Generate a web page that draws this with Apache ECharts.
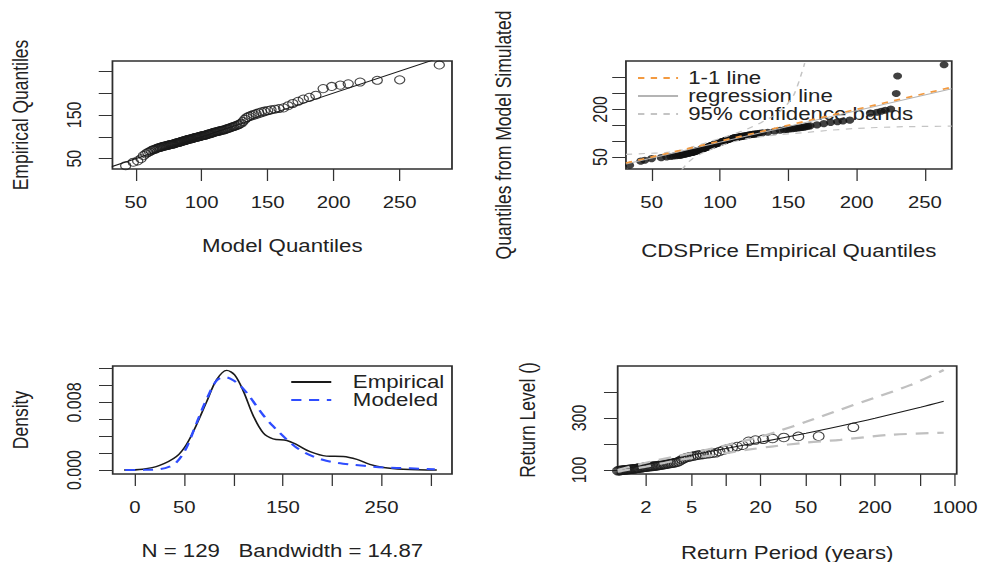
<!DOCTYPE html>
<html>
<head>
<meta charset="utf-8">
<script src="https://cdn.jsdelivr.net/npm/echarts@6.0.0/dist/echarts.min.js"></script>
<style>
  html, body { margin: 0; padding: 0; background: #fff; overflow: hidden; }
  #wrap { width: 981px; height: 562px; overflow: hidden; }
  /* the plot is laid out on a 772px canvas and stretched to the full width */
  #chart { width: 772px; height: 562px; transform: scale(1.2707, 1); transform-origin: 0 0; }
</style>
</head>
<body>
<div id="wrap"><div id="chart"></div></div>
<script>
// ---- sorted CDS prices (n = 129) ----
const cdsPrice = [
  34, 42, 45, 50, 57, 61, 64, 66, 68, 70,
  71, 72, 73.5, 74.5, 75.5, 76, 77, 77.5, 78, 79,
  79.5, 80, 80.5, 81, 81.5, 82, 82.5, 83, 83.5, 84,
  84.5, 85, 86, 86.5, 87, 87.5, 88, 88.5, 89, 89.5,
  90, 91, 91.5, 92, 92.5, 93, 93.5, 94, 94.5, 95,
  95.5, 96, 96.5, 97, 97.5, 98, 98.5, 99, 99.5, 100,
  100.5, 101, 101.5, 102, 102.5, 103, 103.5, 104, 104.5, 105,
  106, 106.5, 107, 108, 108.5, 109, 110, 110.5, 111, 112,
  112.5, 113, 113.5, 114, 115, 115.5, 116, 117, 118, 119,
  120, 121, 122, 123, 124, 125, 126, 127.5, 129, 131,
  135, 140, 144, 147, 149, 151, 153, 155, 157, 158.5,
  160, 161.5, 163, 164.5, 166, 171, 176, 181, 186, 190,
  195, 210, 215, 218, 221, 225, 229, 230, 264
];

// ---- fitted-model quantiles at the same plotting positions ----
const modelQuantiles = [
  42.4, 48.2, 51.5, 54.0, 55.9, 57.6, 59.1, 60.5, 61.7, 62.9,
  63.9, 65.0, 65.9, 66.9, 67.8, 68.6, 69.5, 70.3, 71.1, 71.8,
  72.6, 73.3, 74.1, 74.8, 75.5, 76.2, 76.8, 77.5, 78.2, 78.8,
  79.5, 80.1, 80.8, 81.4, 82.0, 82.7, 83.3, 83.9, 84.5, 85.1,
  85.7, 86.4, 87.0, 87.6, 88.2, 88.8, 89.4, 90.0, 90.6, 91.3,
  91.9, 92.5, 93.1, 93.7, 94.3, 95.0, 95.6, 96.2, 96.8, 97.5,
  98.1, 98.8, 99.4, 100.1, 100.7, 101.4, 102.1, 102.7, 103.4, 104.1,
  104.8, 105.5, 106.2, 106.9, 107.7, 108.4, 109.1, 109.9, 110.6, 111.4,
  112.2, 113.0, 113.8, 114.6, 115.5, 116.3, 117.2, 118.1, 119.0, 119.9,
  120.9, 121.8, 122.8, 123.8, 124.6, 125.6, 126.6, 127.7, 128.8, 130.0,
  131.3, 132.7, 134.2, 135.8, 137.5, 139.3, 141.2, 143.2, 145.3, 147.5,
  150.0, 152.5, 155.5, 158.5, 162.0, 165.5, 169.0, 173.0, 177.0, 181.5,
  186.5, 192.0, 198.5, 205.0, 211.0, 220.0, 233.0, 250.0, 280.0
];

// ---- quantiles of a sample simulated from the model ----
const simulatedQuantiles = [
  24, 37, 40, 45, 48, 50, 51.5, 53, 54, 55,
  55.5, 56.5, 58, 59, 60.5, 61, 62, 62.5, 63, 64,
  64.5, 65, 66, 66.5, 67, 68, 68.5, 69.5, 70, 70.5,
  71, 72, 73.5, 74.5, 75, 76, 77, 77.5, 78.5, 79,
  80, 81.5, 82.5, 83.5, 84, 85, 86, 86.5, 87, 88,
  89, 90, 91, 91.5, 92, 93, 94, 94.5, 95, 96,
  97, 97.5, 98, 99, 99.5, 100.5, 101, 102, 103, 103.5,
  105, 106, 106.5, 107.5, 108, 109, 110, 110.5, 111, 111.5,
  112, 112.5, 113, 113.5, 114, 114.5, 115, 116, 116.5, 117,
  118, 119, 120, 121, 121.5, 122, 122.5, 123.5, 125, 126,
  128, 131, 134, 136, 137, 138, 139, 140, 141, 142,
  143, 144, 145.5, 147, 148, 151, 155, 159, 161, 163,
  166, 188, 191, 194, 197, 201, 250, 305, 340
];

// ---- empirical return periods (years) of the 78 largest prices;
//      the smaller ones fall left of the plotted period range ----
const returnPeriods = [
  1.091, 1.115, 1.138, 1.163, 1.187, 1.213, 1.239, 1.266, 1.293, 1.322,
  1.351, 1.381, 1.411, 1.443, 1.475, 1.509, 1.543, 1.579, 1.615, 1.653,
  1.692, 1.733, 1.775, 1.818, 1.863, 1.909, 1.958, 2.008, 2.060, 2.114,
  2.170, 2.229, 2.290, 2.354, 2.420, 2.490, 2.563, 2.639, 2.719, 2.804,
  2.892, 2.986, 3.084, 3.188, 3.298, 3.415, 3.539, 3.671, 3.812, 3.962,
  4.123, 4.295, 4.481, 4.682, 4.900, 5.136, 5.394, 5.676, 5.986, 6.329,
  6.710, 7.135, 7.614, 8.157, 8.776, 9.491, 10.33, 11.31, 12.49, 13.94,
  15.75, 18.07, 21.16, 25.50, 32.00, 42.83, 64.50, 129.5
];

// ---- QQ reference line (y = x) ----
const qqLineEnds = [26.5, 289.6];

// ---- simulated-vs-empirical panel lines ----
const identityEnds = [31.2, 269.6];
const regressionX = [31.2, 269.6];
const regressionY = [28, 265];
const bandUpperX = [31.2, 45, 60, 70, 80, 90, 100, 110, 120, 130, 140, 148, 154, 158, 162];
const bandUpperY = [58, 61, 64, 70, 82, 95, 108, 122, 138, 158, 182, 210, 245, 290, 345];
const bandLowerX = [72, 76, 80, 85, 90, 100, 110, 120, 140, 160, 180, 200, 230, 269.6];
const bandLowerY = [10, 30, 45, 58, 68, 85, 98, 108, 119, 126, 134, 140, 145, 147];

// ---- density curves ----
const empDensX = [-11, 8, 25, 42, 52, 62.5, 72.7, 82.8, 93, 101, 110, 120, 130, 140, 154, 164, 177, 194, 211, 225, 238, 252, 272, 306];
const empDensY = [0, 0.0001, 0.00055, 0.0016, 0.003, 0.0054, 0.0081, 0.0107, 0.0118, 0.01126, 0.0093, 0.0064, 0.0044, 0.0037, 0.0035, 0.003, 0.0022, 0.00165, 0.0016, 0.00126, 0.00067, 0.0003, 0.0001, 0];
const modDensX = [-10, 10, 25, 35, 42, 52, 62.5, 72.7, 82.8, 91, 100, 110, 120, 130, 140, 155, 167, 181, 194, 211, 232, 252, 279, 304];
const modDensY = [0, 0.00002, 0.0001, 0.0004, 0.0009, 0.0026, 0.0056, 0.0084, 0.0106, 0.0110, 0.0106, 0.0096, 0.0081, 0.0065, 0.0052, 0.0035, 0.0024, 0.0016, 0.0011, 0.00075, 0.0005, 0.0003, 0.0002, 0.0001];

// ---- return level curve and 95% bands ----
const rlPeriod = [1.13, 1.5, 2, 3, 5, 10, 20, 50, 100, 200, 500, 797];
const rlLevel = [97, 110, 120, 137, 157, 182.6, 206.9, 241, 269, 298.7, 341, 364];
const rlUpperPeriod = [1.13, 2, 5, 10, 20, 30, 50, 100, 200, 400, 797];
const rlUpperLevel = [100, 128, 165, 195, 228, 252, 285, 332, 378, 425, 484];
const rlLowerPeriod = [1.13, 2, 4, 7, 10, 15, 25, 50, 100, 270, 797];
const rlLowerLevel = [94, 113, 140, 154, 165, 177, 190, 205, 216, 235, 243];

// ---- tick marks and labelled ticks ----
const qqTicks = [50, 100, 150, 200, 250];
const qqYLabels = [50, 150];
const simYTicks = [50, 100, 150, 200, 250, 300];
const simYLabels = [50, 200];
const densXTicks = [0, 50, 100, 150, 200, 250, 300];
const densXLabels = [0, 50, 150, 250];
const densYTicks = [0, 0.002, 0.004, 0.006, 0.008, 0.010, 0.012];
const densYLabels = [0, 0.008];
const periodTicks = [2, 5, 10, 20, 50, 100, 200, 500, 1000];
const periodLabels = [2, 5, 20, 50, 200, 1000];
const levelTicks = [100, 200, 300, 400];
const levelLabels = [100, 300];

// ---------------------------------------------------------------
const FONT = '"Liberation Sans", Arial, Helvetica, sans-serif';
const INK = '#222';
const log10 = v => Math.log10(v);
const pairs = (xs, ys) => xs.map((x, i) => [x, ys[i]]);

function xAxisOf(grid, min, max, name, gap, ticks, labels, fmt) {
  return {
    gridIndex: grid, type: 'value', min, max,
    name, nameLocation: 'middle', nameGap: gap,
    nameTextStyle: { fontFamily: FONT, fontSize: 17.5, color: INK },
    axisLine: { show: false, onZero: false },
    splitLine: { show: false },
    axisTick: { show: true, customValues: ticks, length: 12, lineStyle: { color: '#333', width: 1 } },
    axisLabel: { customValues: labels, margin: 25.5, fontFamily: FONT, fontSize: 16, color: INK, formatter: fmt }
  };
}
function yAxisOf(grid, min, max, name, gap, ticks, labels, margin, fmt, namePad) {
  return {
    gridIndex: grid, type: 'value', min, max,
    name, nameLocation: 'middle', nameGap: gap, nameRotate: 90,
    nameTextStyle: { fontFamily: FONT, fontSize: 17.5, color: INK, padding: namePad || 0 },
    axisLine: { show: false, onZero: false },
    splitLine: { show: false },
    axisTick: { show: true, customValues: ticks, length: 10.8, lineStyle: { color: '#333', width: 1 } },
    axisLabel: { customValues: labels, rotate: 90, margin, fontFamily: FONT, fontSize: 16, color: INK, formatter: fmt }
  };
}
const box = (left, top, width, height) => ({
  left, top, width, height, show: true, containLabel: false, outerBoundsMode: 'none',
  borderColor: '#2e2e2e', borderWidth: 1.4, backgroundColor: 'transparent'
});
const openCircles = size => ({
  type: 'scatter', symbol: 'circle', symbolSize: size, clip: true,
  itemStyle: { color: 'rgba(0,0,0,0)', borderColor: '#1a1a1a', borderWidth: 1 },
  emphasis: { disabled: true }
});
const path = (name, data, color, width, dash, xi, smooth) => ({
  type: 'line', name, data, xAxisIndex: xi, yAxisIndex: xi,
  symbol: 'none', showSymbol: false, clip: true, smooth: smooth || false, z: 4,
  lineStyle: { color, width, type: dash || 'solid' },
  emphasis: { disabled: true }
});

const option = {
  animation: false,
  backgroundColor: '#fff',
  grid: [
    box(88.5, 61, 267.2, 108),
    box(492.6, 61, 256.4, 108),
    box(88.7, 366, 267.0, 108),
    box(486.1, 366, 266.8, 108)
  ],
  xAxis: [
    xAxisOf(0, 32.4, 289.6, 'Model Quantiles', 68, qqTicks, qqTicks),
    xAxisOf(1, 31.2, 269.6, 'CDSPrice Empirical Quantiles', 73, qqTicks, qqTicks),
    xAxisOf(2, -22.6, 321.4, 'N = 129   Bandwidth = 14.87', 68, densXTicks, densXLabels),
    xAxisOf(3, 0.054, 3.015, 'Return Period (years)', 69.5,
      periodTicks.map(log10), periodLabels.map(log10),
      v => String(Math.round(Math.pow(10, v))))
  ],
  yAxis: [
    yAxisOf(0, 26.5, 273, 'Empirical Quantiles', 63.8, qqTicks, qqYLabels, 22.8),
    // title sits a little below the panel centre, running up to the top edge
    yAxisOf(1, 12.3, 352, 'Quantiles from Model Simulated', 87.6, simYTicks, simYLabels, 12.9,
      undefined, [0, 40, 0, 0]),
    yAxisOf(2, -0.00047, 0.01232, 'Density', 64, densYTicks, densYLabels, 23, v => v.toFixed(3)),
    yAxisOf(3, 84.6, 499.5, 'Return Level ()', 62, levelTicks, levelLabels, 23)
  ],
  legend: [
    {
      data: ['1-1 line', 'regression line', '95% confidence bands'],
      orient: 'vertical', left: 496.1, top: 64, padding: 5,
      itemWidth: 31.5, itemHeight: 14, itemGap: 0, selectedMode: false,
      itemStyle: { opacity: 0 },
      textStyle: { fontFamily: FONT, fontSize: 17.5, color: INK, lineHeight: 14, padding: [0, 0, 0, 3] }
    },
    {
      data: ['Empirical', 'Modeled'],
      orient: 'vertical', left: 223.2, top: 368, padding: 5,
      itemWidth: 31.5, itemHeight: 15.3, itemGap: 0, selectedMode: false,
      itemStyle: { opacity: 0 },
      textStyle: { fontFamily: FONT, fontSize: 17.5, color: INK, lineHeight: 15.3, padding: [0, 0, 0, 12] }
    }
  ],
  series: [
    // QQ plot: model vs empirical quantiles
    Object.assign(openCircles(8), {
      name: 'qq', xAxisIndex: 0, yAxisIndex: 0,
      data: modelQuantiles.map((m, i) => [m, cdsPrice[i]])
    }),
    path('qq line', qqLineEnds.map(v => [v, v]), '#1a1a1a', 1, 'solid', 0),

    // simulated vs empirical quantiles
    {
      type: 'scatter', name: 'simulated', xAxisIndex: 1, yAxisIndex: 1,
      symbol: 'circle', symbolSize: 7, clip: true,
      itemStyle: { color: '#111' }, emphasis: { disabled: true },
      data: cdsPrice.map((c, i) => [c, simulatedQuantiles[i]])
    },
    path('regression line', pairs(regressionX, regressionY), '#b4b4b4', 1, 'solid', 1),
    path('95% confidence bands', pairs(bandUpperX, bandUpperY), '#c4c4c4', 1.2, [5, 5], 1, 0.2),
    path('95% confidence bands', pairs(bandLowerX, bandLowerY), '#c4c4c4', 1.2, [5, 5], 1, 0.2),
    path('1-1 line', identityEnds.map(v => [v, v]), '#f39a40', 1.7, [5, 5], 1),

    // density comparison
    path('Empirical', pairs(empDensX, empDensY), '#1a1a1a', 1.4, 'solid', 2, 0.35),
    path('Modeled', pairs(modDensX, modDensY), '#2f4dff', 2, [8, 6], 2, 0.35),

    // return level plot
    path('return level', pairs(rlPeriod.map(log10), rlLevel), '#1a1a1a', 1, 'solid', 3, 0.3),
    path('upper band', pairs(rlUpperPeriod.map(log10), rlUpperLevel), '#c0c0c0', 2.2, [10, 7], 3, 0.3),
    path('lower band', pairs(rlLowerPeriod.map(log10), rlLowerLevel), '#c0c0c0', 2.2, [10, 7], 3, 0.3),
    Object.assign(openCircles(8.5), {
      name: 'observed', xAxisIndex: 3, yAxisIndex: 3,
      data: returnPeriods.map((t, k) => [log10(t), cdsPrice[cdsPrice.length - returnPeriods.length + k]])
    })
  ]
};

const chart = echarts.init(document.getElementById('chart'), null, { renderer: 'svg' });
chart.setOption(option);
</script>
</body>
</html>
